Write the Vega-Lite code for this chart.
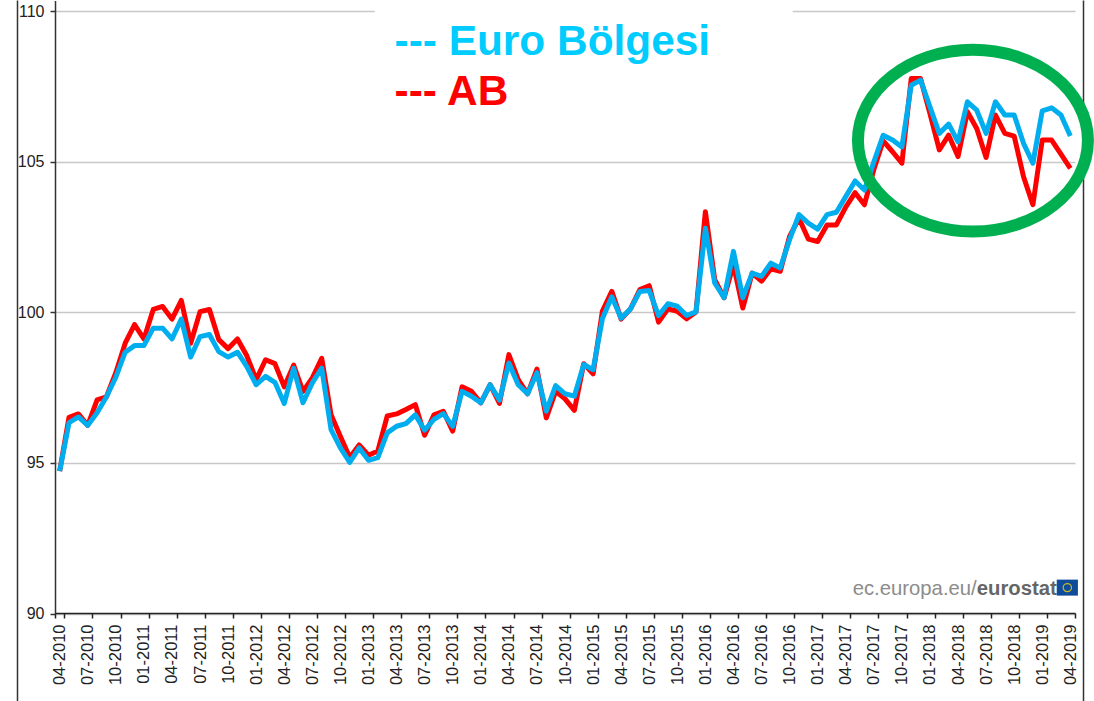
{
"$schema":"https://vega.github.io/schema/vega-lite/v6.json",
"autosize":{"type":"none"},
"width":1020,"height":701,
"padding":{"left":55,"right":19,"top":0,"bottom":0},
"background":"white",
"config":{"view":{"stroke":null},"font":"Liberation Sans"},
"datasets":{"series":[
{"month":"04-2010","AB":94.73,"EA":94.73},{"month":"05-2010","AB":96.52,"EA":96.34},{"month":"06-2010","AB":96.63,"EA":96.53},
{"month":"07-2010","AB":96.25,"EA":96.25},{"month":"08-2010","AB":97.1,"EA":96.67},{"month":"09-2010","AB":97.2,"EA":97.2},
{"month":"10-2010","AB":98.0,"EA":97.85},{"month":"11-2010","AB":98.98,"EA":98.68},{"month":"12-2010","AB":99.6,"EA":98.9},
{"month":"01-2011","AB":99.12,"EA":98.9},{"month":"02-2011","AB":100.1,"EA":99.48},{"month":"03-2011","AB":100.2,"EA":99.48},
{"month":"04-2011","AB":99.78,"EA":99.12},{"month":"05-2011","AB":100.4,"EA":99.78},{"month":"06-2011","AB":98.98,"EA":98.52},
{"month":"07-2011","AB":100.03,"EA":99.2},{"month":"08-2011","AB":100.1,"EA":99.27},{"month":"09-2011","AB":99.1,"EA":98.7},
{"month":"10-2011","AB":98.8,"EA":98.52},{"month":"11-2011","AB":99.12,"EA":98.68},{"month":"12-2011","AB":98.56,"EA":98.2},
{"month":"01-2012","AB":97.77,"EA":97.6},{"month":"02-2012","AB":98.43,"EA":97.88},{"month":"03-2012","AB":98.3,"EA":97.68},
{"month":"04-2012","AB":97.53,"EA":96.98},{"month":"05-2012","AB":98.25,"EA":98.15},{"month":"06-2012","AB":97.38,"EA":97.0},
{"month":"07-2012","AB":97.83,"EA":97.66},{"month":"08-2012","AB":98.48,"EA":98.15},{"month":"09-2012","AB":96.6,"EA":96.11},
{"month":"10-2012","AB":95.88,"EA":95.5},{"month":"11-2012","AB":95.18,"EA":95.02},{"month":"12-2012","AB":95.6,"EA":95.5},
{"month":"01-2013","AB":95.26,"EA":95.09},{"month":"02-2013","AB":95.4,"EA":95.18},{"month":"03-2013","AB":96.56,"EA":96.0},
{"month":"04-2013","AB":96.63,"EA":96.22},{"month":"05-2013","AB":96.78,"EA":96.31},{"month":"06-2013","AB":96.94,"EA":96.6},
{"month":"07-2013","AB":95.92,"EA":96.09},{"month":"08-2013","AB":96.6,"EA":96.45},{"month":"09-2013","AB":96.72,"EA":96.64},
{"month":"10-2013","AB":96.06,"EA":96.22},{"month":"11-2013","AB":97.53,"EA":97.38},{"month":"12-2013","AB":97.38,"EA":97.22},
{"month":"01-2014","AB":97.0,"EA":97.0},{"month":"02-2014","AB":97.6,"EA":97.6},{"month":"03-2014","AB":96.98,"EA":97.09},
{"month":"04-2014","AB":98.6,"EA":98.32},{"month":"05-2014","AB":97.77,"EA":97.6},{"month":"06-2014","AB":97.3,"EA":97.3},
{"month":"07-2014","AB":98.12,"EA":98.0},{"month":"08-2014","AB":96.5,"EA":96.72},{"month":"09-2014","AB":97.38,"EA":97.57},
{"month":"10-2014","AB":97.13,"EA":97.3},{"month":"11-2014","AB":96.75,"EA":97.22},{"month":"12-2014","AB":98.3,"EA":98.27},
{"month":"01-2015","AB":97.96,"EA":98.1},{"month":"02-2015","AB":100.05,"EA":99.8},{"month":"03-2015","AB":100.7,"EA":100.52},
{"month":"04-2015","AB":99.78,"EA":99.81},{"month":"05-2015","AB":100.12,"EA":100.12},{"month":"06-2015","AB":100.76,"EA":100.7},
{"month":"07-2015","AB":100.89,"EA":100.73},{"month":"08-2015","AB":99.68,"EA":99.9},{"month":"09-2015","AB":100.12,"EA":100.29},
{"month":"10-2015","AB":100.04,"EA":100.21},{"month":"11-2015","AB":99.79,"EA":99.9},{"month":"12-2015","AB":100.02,"EA":100.02},
{"month":"01-2016","AB":103.35,"EA":102.8},{"month":"02-2016","AB":101.09,"EA":100.98},{"month":"03-2016","AB":100.49,"EA":100.49},
{"month":"04-2016","AB":101.59,"EA":102.03},{"month":"05-2016","AB":100.15,"EA":100.49},{"month":"06-2016","AB":101.31,"EA":101.31},
{"month":"07-2016","AB":101.04,"EA":101.2},{"month":"08-2016","AB":101.45,"EA":101.64},{"month":"09-2016","AB":101.37,"EA":101.48},
{"month":"10-2016","AB":102.53,"EA":102.42},{"month":"11-2016","AB":103.13,"EA":103.25},{"month":"12-2016","AB":102.44,"EA":102.97},
{"month":"01-2017","AB":102.36,"EA":102.77},{"month":"02-2017","AB":102.91,"EA":103.25},{"month":"03-2017","AB":102.91,"EA":103.33},
{"month":"04-2017","AB":103.5,"EA":103.85},{"month":"05-2017","AB":103.98,"EA":104.37},{"month":"06-2017","AB":103.58,"EA":104.07},
{"month":"07-2017","AB":104.75,"EA":105.0},{"month":"08-2017","AB":105.7,"EA":105.89},{"month":"09-2017","AB":105.34,"EA":105.73},
{"month":"10-2017","AB":104.96,"EA":105.5},{"month":"11-2017","AB":107.77,"EA":107.55},{"month":"12-2017","AB":107.77,"EA":107.72},
{"month":"01-2018","AB":106.61,"EA":106.83},{"month":"02-2018","AB":105.4,"EA":105.95},{"month":"03-2018","AB":105.89,"EA":106.26},
{"month":"04-2018","AB":105.18,"EA":105.67},{"month":"05-2018","AB":106.67,"EA":107.0},{"month":"06-2018","AB":106.11,"EA":106.72},
{"month":"07-2018","AB":105.15,"EA":105.95},{"month":"08-2018","AB":106.56,"EA":107.0},{"month":"09-2018","AB":105.95,"EA":106.56},
{"month":"10-2018","AB":105.86,"EA":106.56},{"month":"11-2018","AB":104.51,"EA":105.62},{"month":"12-2018","AB":103.58,"EA":104.96},
{"month":"01-2019","AB":105.73,"EA":106.7},{"month":"02-2019","AB":105.73,"EA":106.8},{"month":"03-2019","AB":105.26,"EA":106.56},
{"month":"04-2019","AB":104.79,"EA":105.86}
]},
"layer":[
{
"encoding":{
 "x":{"field":"month","type":"ordinal","sort":null,"title":null,
  "scale":{"type":"band","paddingInner":0,"paddingOuter":0,"domain":["04-2010","05-2010","06-2010","07-2010","08-2010","09-2010","10-2010","11-2010","12-2010","01-2011","02-2011","03-2011","04-2011","05-2011","06-2011","07-2011","08-2011","09-2011","10-2011","11-2011","12-2011","01-2012","02-2012","03-2012","04-2012","05-2012","06-2012","07-2012","08-2012","09-2012","10-2012","11-2012","12-2012","01-2013","02-2013","03-2013","04-2013","05-2013","06-2013","07-2013","08-2013","09-2013","10-2013","11-2013","12-2013","01-2014","02-2014","03-2014","04-2014","05-2014","06-2014","07-2014","08-2014","09-2014","10-2014","11-2014","12-2014","01-2015","02-2015","03-2015","04-2015","05-2015","06-2015","07-2015","08-2015","09-2015","10-2015","11-2015","12-2015","01-2016","02-2016","03-2016","04-2016","05-2016","06-2016","07-2016","08-2016","09-2016","10-2016","11-2016","12-2016","01-2017","02-2017","03-2017","04-2017","05-2017","06-2017","07-2017","08-2017","09-2017","10-2017","11-2017","12-2017","01-2018","02-2018","03-2018","04-2018","05-2018","06-2018","07-2018","08-2018","09-2018","10-2018","11-2018","12-2018","01-2019","02-2019","03-2019","04-2019"]},
  "axis":{"orient":"bottom","offset":-88,"tickBand":"extent","grid":false,
   "values":["04-2010","07-2010","10-2010","01-2011","04-2011","07-2011","10-2011","01-2012","04-2012","07-2012","10-2012","01-2013","04-2013","07-2013","10-2013","01-2014","04-2014","07-2014","10-2014","01-2015","04-2015","07-2015","10-2015","01-2016","04-2016","07-2016","10-2016","01-2017","04-2017","07-2017","10-2017","01-2018","04-2018","07-2018","10-2018","01-2019","04-2019"],
   "labelAngle":-90,"labelAlign":"right","labelBaseline":"middle","labelFontSize":16.5,"labelColor":"#222222","labelPadding":6,"labelOverlap":false,"labelFlush":false,
   "domainColor":"#222222","domainWidth":1.5,"tickColor":"#222222","tickWidth":1.5,"tickSize":5}},
 "y":{"field":"value","type":"quantitative","title":null,
  "scale":{"domain":[90,110.365],"range":[613.5,0.5],"nice":false,"zero":false},
  "axis":{"orient":"left","values":[90,95,100,105,110],"labelFontSize":16,"labelColor":"#222222","labelPadding":6,
   "domainColor":"#333333","domainWidth":1.5,"tickColor":"#333333","tickWidth":1.5,"tickSize":5,"grid":true,"gridColor":"#c8c8c8","gridWidth":1.5}}
},
"layer":[
 {"data":{"name":"series"},
  "transform":[{"fold":["AB","EA"],"as":["series","value"]}],
  "mark":{"type":"line","strokeWidth":5,"strokeJoin":"round"},
  "encoding":{"color":{"field":"series","type":"nominal","legend":null,"scale":{"domain":["AB","EA"],"range":["#ff0000","#00aeef"]}}}},
 {"data":{"values":[{"month":"12-2014","value":110}]},
  "mark":{"type":"point","filled":true,"fill":"white","stroke":null,"opacity":1,"size":174724,"shape":"M-1,-0.02 L1,-0.02 L1,0.02 L-1,0.02 Z"}},
 {"data":{"values":[{"month":"06-2018","value":105.71}]},
  "mark":{"type":"point","filled":false,"stroke":"#00b050","strokeWidth":12,"opacity":1,"size":52900,
   "shape":"M-1.033,0 C-1.033,-0.436 -0.585,-0.79 -0.033,-0.79 C0.519,-0.79 0.967,-0.436 0.967,0 C0.967,0.436 0.519,0.79 -0.033,0.79 C-0.585,0.79 -1.033,0.436 -1.033,0 Z"}},
 {"data":{"values":[{"month":"04-2013","value":108.57,"label":"--- Euro Bölgesi"}]},
  "mark":{"type":"text","align":"left","baseline":"alphabetic","font":"Liberation Sans","fontWeight":"bold","fontSize":42.4,"color":"#00ccff","dx":-2},
  "encoding":{"text":{"field":"label"}}},
 {"data":{"values":[{"month":"04-2013","value":106.88,"label":"--- AB"}]},
  "mark":{"type":"text","align":"left","baseline":"alphabetic","font":"Liberation Sans","fontWeight":"bold","fontSize":42.4,"color":"#ff0000","dx":-2},
  "encoding":{"text":{"field":"label"}}},
 {"data":{"values":[{"month":"06-2018","value":90.6,"label":"ec.europa.eu/"}]},
  "mark":{"type":"text","align":"right","baseline":"alphabetic","fontSize":20.3,"color":"#8c8c8c","dx":0},
  "encoding":{"text":{"field":"label"}}},
 {"data":{"values":[{"month":"06-2018","value":90.6,"label":"eurostat"}]},
  "mark":{"type":"text","align":"left","baseline":"alphabetic","fontSize":20.3,"fontWeight":"bold","color":"#666666","dx":0},
  "encoding":{"text":{"field":"label"}}},
 {"data":{"values":[{"month":"04-2019","value":90.86}]},
  "mark":{"type":"point","filled":true,"fill":"#0e4c9a","stroke":null,"opacity":1,"size":256,"shape":"M-1.7,-1 L0.95,-1 L0.95,1 L-1.7,1 Z"}},
 {"data":{"values":[{"month":"04-2019","value":90.86}]},
  "mark":{"type":"point","filled":false,"stroke":"#c9b92b","strokeWidth":1.2,"opacity":1,"size":256,
   "shape":"M-0.9,0 C-0.9,-0.28 -0.65,-0.5 -0.375,-0.5 C-0.1,-0.5 0.15,-0.28 0.15,0 C0.15,0.28 -0.1,0.5 -0.375,0.5 C-0.65,0.5 -0.9,0.28 -0.9,0 Z"}}
]
},
{"data":{"values":[{"f":0},{"f":1}]},
 "mark":{"type":"rule","opacity":0},
 "encoding":{"y":{"field":"f","type":"quantitative","title":null,"scale":{"domain":[0,1],"range":[701,0],"nice":false},
  "axis":{"orient":"left","offset":38,"labels":false,"ticks":false,"grid":false,"domain":true,"domainColor":"#333333","domainWidth":1.5}}}},
{"data":{"values":[{"f":0},{"f":1}]},
 "mark":{"type":"rule","opacity":0},
 "encoding":{"y":{"field":"f","type":"quantitative","title":null,"scale":{"domain":[0,1],"range":[701,0],"nice":false},
  "axis":{"orient":"right","offset":8,"labels":false,"ticks":false,"grid":false,"domain":true,"domainColor":"#333333","domainWidth":1.5}}}}
],
"resolve":{"scale":{"y":"independent"},"axis":{"y":"independent"}}
}
